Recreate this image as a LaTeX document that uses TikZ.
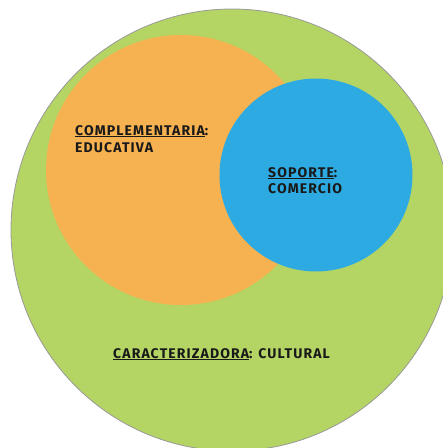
\documentclass[tikz,border=0pt]{standalone}
\usepackage{fontspec}
\setmainfont{Fira Sans}[BoldFont={Fira Sans Bold}, LetterSpace=8]
\definecolor{cgreen}{RGB}{180,213,100}
\definecolor{corange}{RGB}{246,178,80}
\definecolor{cblue}{RGB}{45,170,225}
\definecolor{ctext}{RGB}{25,25,25}
\tikzset{
  disc/.style={circle, inner sep=0pt, outer sep=0pt},
  lbl/.style={anchor=base west, inner sep=0pt, text=ctext, font=\bfseries\fontsize{14}{16}\selectfont},
}
\newcommand{\ul}[1]{\underline{#1}}
\begin{document}
\begin{tikzpicture}[x=1pt,y=-1pt]
\useasboundingbox (0,0) rectangle (443,448);
\clip (0,0) rectangle (443,448);
\node[disc, fill=cgreen, draw=gray!80, line width=0.8pt, minimum size=442pt] (cult) at (232,230) {};
\node[disc, fill=corange, minimum size=270pt] (edu) at (181,170) {};
\node[disc, fill=cblue, minimum size=193pt] (com) at (316,175) {};
\node[lbl] (e1) at (75,135) {\ul{COMPLEMENTARIA}:};
\node[lbl] (e2) at (75,152) {EDUCATIVA};
\node[lbl] (s1) at (268,177) {\ul{SOPORTE}:};
\node[lbl] (s2) at (268,193) {COMERCIO};
\node[lbl] (c1) at (113,358) {\ul{CARACTERIZADORA}: CULTURAL};
\end{tikzpicture}
\end{document}
